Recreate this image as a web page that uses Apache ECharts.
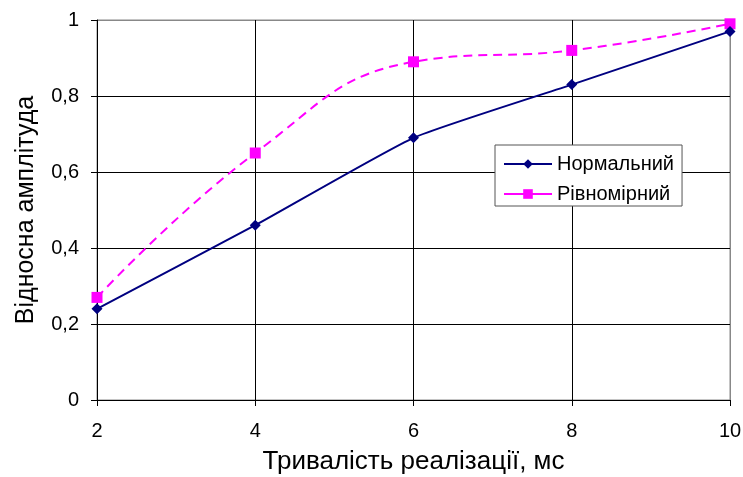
<!DOCTYPE html>
<html>
<head>
<meta charset="utf-8">
<script src="https://cdn.jsdelivr.net/npm/echarts@6/dist/echarts.min.js"></script>
<style>
  html, body { margin: 0; padding: 0; background: #fff; }
  #chart { width: 743px; height: 477px; }
</style>
</head>
<body>
<div id="chart"></div>
<script>
// Duration of realization, ms
const durations = [2, 4, 6, 8, 10];
// Relative amplitude for the normal distribution
const normalValues = [0.24, 0.46, 0.69, 0.83, 0.97];
// Relative amplitude for the uniform distribution
const uniformValues = [0.27, 0.65, 0.89, 0.92, 0.99];

const seriesNames = ['Нормальний', 'Рівномірний'];
const xTitle = 'Тривалість реалізації, мс';
const yTitle = 'Відносна амплітуда';

const font = 'Liberation Sans, Arial, sans-serif';

const chart = echarts.init(document.getElementById('chart'), null, { renderer: 'canvas' });

const pairs = (ys) => durations.map((x, i) => [x, ys[i]]);

chart.setOption({
  animation: false,
  backgroundColor: '#ffffff',
  grid: {
    left: 97, right: 13, top: 20, bottom: 77,
    outerBoundsMode: 'none',
    containLabel: false,
    show: true, borderColor: '#888888', borderWidth: 1, backgroundColor: 'transparent'
  },
  legend: {
    orient: 'vertical',
    left: 495, top: 145,
    backgroundColor: '#ffffff',
    borderColor: '#555555', borderWidth: 1, borderRadius: 0,
    padding: [9, 8, 2, 8],
    itemGap: 10,
    itemWidth: 48, itemHeight: 12,
    textStyle: { fontFamily: font, fontSize: 20, color: '#000' },
    data: [
      { name: seriesNames[0] },
      { name: seriesNames[1], lineStyle: { type: 'solid' } }
    ]
  },
  xAxis: {
    type: 'value', min: 2, max: 10, interval: 2,
    name: xTitle, nameLocation: 'middle', nameGap: 49,
    nameTextStyle: { fontFamily: font, fontSize: 26, color: '#000' },
    axisLine: { show: true, lineStyle: { color: '#000', width: 1 } },
    axisTick: { show: true, length: 6, lineStyle: { color: '#000' } },
    axisLabel: { fontFamily: font, fontSize: 20, color: '#000', margin: 21 },
    splitLine: { show: true, lineStyle: { color: ['#000', '#000', '#000', '#000', '#888'], width: 1 } }
  },
  yAxis: {
    type: 'value', min: 0, max: 1, interval: 0.2,
    name: yTitle, nameLocation: 'middle', nameGap: 58, nameRotate: 90,
    nameTextStyle: { fontFamily: font, fontSize: 25, color: '#000' },
    axisLine: { show: true, lineStyle: { color: '#000', width: 1 } },
    axisTick: { show: true, length: 6, lineStyle: { color: '#000' } },
    axisLabel: {
      fontFamily: font, fontSize: 20, color: '#000', margin: 18,
      formatter: (v) => String(Math.round(v * 10) / 10).replace('.', ',')
    },
    splitLine: { show: true, lineStyle: { color: ['#000', '#000', '#000', '#000', '#000', '#888'], width: 1 } }
  },
  series: [
    {
      name: seriesNames[0],
      type: 'line',
      data: pairs(normalValues),
      smooth: 0.15,
      symbol: 'diamond', symbolSize: 11,
      itemStyle: { color: '#000080' },
      lineStyle: { color: '#000080', width: 2 },
      z: 3
    },
    {
      name: seriesNames[1],
      type: 'line',
      data: pairs(uniformValues),
      smooth: 0.45,
      symbol: 'rect', symbolSize: 11,
      itemStyle: { color: '#ff00ff' },
      lineStyle: { color: '#ff00ff', width: 2, type: [9, 6] },
      z: 2
    }
  ]
});
</script>
</body>
</html>
